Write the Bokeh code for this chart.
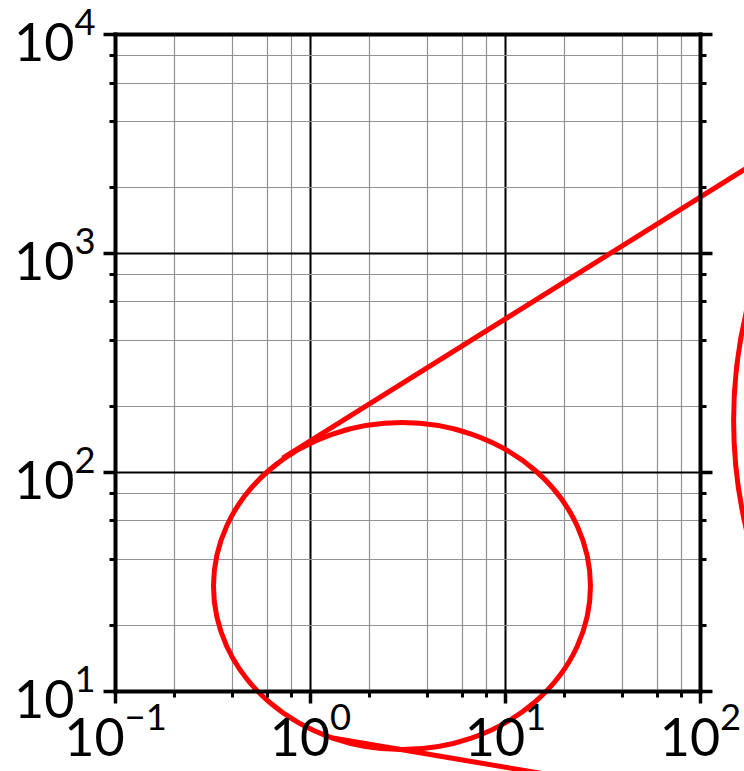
from bokeh.plotting import figure
from bokeh.models import LogAxis, LogTicker, Grid, Range1d
from bokeh.embed import file_html
from bokeh.resources import INLINE

# Visible data window (the whole canvas) and the boxed axis extent
x_view = (0.02572, 168.1)
y_view = (4.297, 14297.0)
x_bounds = (0.1, 100.0)
y_bounds = (10.0, 10000.0)

# Upper tangent line
upper_x = [0.72, 200.0]
upper_y = [116.2, 2662.0]

# Lower tangent line
lower_x = [1.3, 200.0]
lower_y = [6.11, 2.86]

# Closed contours: centre in data units
ring_x = [2.945]
ring_y = [30.2]
outer_ring_x = [2.37e5]
outer_ring_y = [172.5]

RED = "#ff0000"
FONT = "Lato"

p = figure(
    width=744, height=771,
    x_axis_type="log", y_axis_type="log",
    x_range=Range1d(*x_view), y_range=Range1d(*y_view),
    x_axis_location=None, y_axis_location=None,
    min_border=0, toolbar_location=None, output_backend="svg",
    outline_line_color=None,
    background_fill_color="white", border_fill_color="white",
)
p.center = []


def make_grid(dim, bounds, cross):
    return Grid(
        dimension=dim, ticker=LogTicker(), bounds=bounds, cross_bounds=cross,
        grid_line_color="black", grid_line_width=2,
        minor_grid_line_color="#929292", minor_grid_line_width=1.2,
    )


p.add_layout(make_grid(0, x_bounds, y_bounds), "center")
p.add_layout(make_grid(1, y_bounds, x_bounds), "center")


def make_axis(fixed, bounds, ticks=True, labels=True, standoff=8):
    ax = LogAxis(
        fixed_location=fixed, bounds=bounds, ticker=LogTicker(),
        axis_line_width=4, axis_line_color="black", axis_line_cap="square",
        major_tick_in=0, major_tick_out=12 if ticks else 0,
        minor_tick_in=0, minor_tick_out=6 if ticks else 0,
        major_tick_line_width=3.5, minor_tick_line_width=3,
        major_tick_line_color="black", minor_tick_line_color="black",
        major_label_text_font=FONT, major_label_text_font_size="52px",
        major_label_text_color="black" if labels else None,
        major_label_standoff=standoff,
    )
    return ax


p.add_layout(make_axis(y_bounds[0], x_bounds, standoff=0), "below")
p.add_layout(make_axis(x_bounds[0], y_bounds, standoff=8), "left")
p.add_layout(make_axis(x_bounds[1], y_bounds, labels=False), "right")
p.add_layout(make_axis(y_bounds[1], x_bounds, ticks=False, labels=False), "above")

# Red contours and tangents
p.ellipse(x=ring_x, y=ring_y, width=377, height=327,
          width_units="screen", height_units="screen",
          fill_color=None, line_color=RED, line_width=5)
p.ellipse(x=outer_ring_x, y=outer_ring_y, width=1250, height=1084,
          width_units="screen", height_units="screen",
          fill_color=None, line_color=RED, line_width=5)
p.line(upper_x, upper_y, line_color=RED, line_width=5)
p.line(lower_x, lower_y, line_color=RED, line_width=5)

open("out.html", "w").write(file_html(p, INLINE))
